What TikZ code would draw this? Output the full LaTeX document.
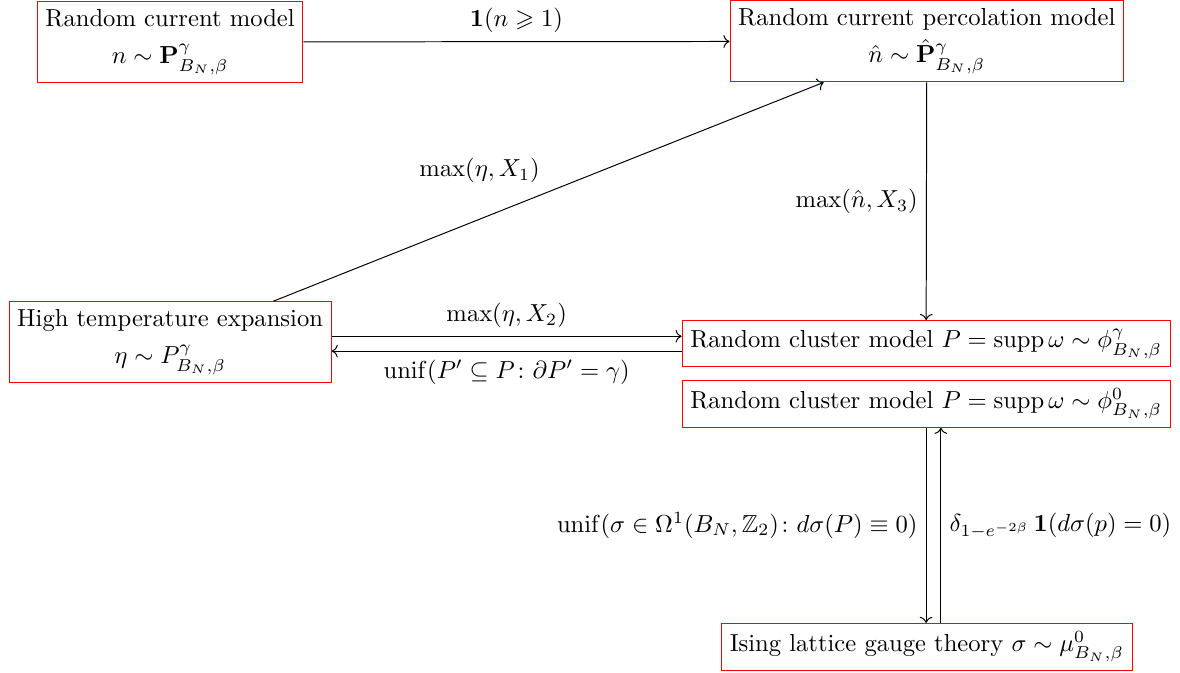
\documentclass[tikz,border=0pt]{standalone}
\usepackage{amsmath,amssymb,amsfonts}
\usepackage{tikz}
\usetikzlibrary{arrows.meta,positioning,calc}
\usepackage{xcolor}

\begin{document}
\begin{tikzpicture}[
  model/.style={draw=red,align=center,inner sep=3.33pt},
  every node/.style={font=\normalsize}]
  \useasboundingbox (0,0) rectangle (16.857,-9.614);
  \node[model] (RC) at (2.43,-0.60) {Random current model\\[3pt] $n\sim\mathbf{P}^{\gamma}_{B_N,\beta}$};
  \node[model] (RCP) at (13.24,-0.59) {Random current percolation model\\[3pt] $\hat n\sim\hat{\mathbf{P}}^{\gamma}_{B_N,\beta}$};
  \node[model] (HTE) at (2.43,-4.89) {High temperature expansion\\[3pt] $\eta\sim P^{\gamma}_{B_N,\beta}$};
  \node[model] (RCMg) at (13.23,-4.91) {Random cluster model $P=\operatorname{supp}\omega\sim\phi^{\gamma}_{B_N,\beta}$};
  \node[model] (RCMz) at (13.23,-5.77) {Random cluster model $P=\operatorname{supp}\omega\sim\phi^{0}_{B_N,\beta}$};
  \node[model] (IS) at (13.24,-9.24) {Ising lattice gauge theory $\sigma\sim\mu^{0}_{B_N,\beta}$};
  \draw[->] (RC) -- node[above]{$\mathbf{1}(n\geqslant 1)$} (RCP);
  \draw[->] (HTE) -- node[above left]{$\max(\eta,X_1)$} (RCP);
  \draw[->] (RCP) -- node[left]{$\max(\hat n,X_3)$} (RCMg);
  \draw[->] ([yshift=3pt]RCMg.west -| HTE.east) -- node[above]{$\max(\eta,X_2)$} ([yshift=3pt]RCMg.west);
  \draw[->] ([yshift=-3pt]RCMg.west) -- node[below]{$\operatorname{unif}(P'\subseteq P\colon \partial P'=\gamma)$} ([yshift=-3pt]RCMg.west -| HTE.east);
  \draw[->] (RCMz.south) -- node[left]{$\operatorname{unif}(\sigma\in\Omega^1(B_N,\mathbb{Z}_2)\colon d\sigma(P)\equiv 0)$} (RCMz.south |- IS.north);
  \draw[->] ([xshift=6pt]RCMz.south |- IS.north) -- node[right]{$\delta_{1-e^{-2\beta}}\,\mathbf{1}(d\sigma(p)=0)$} ([xshift=6pt]RCMz.south);
\end{tikzpicture}
\end{document}
